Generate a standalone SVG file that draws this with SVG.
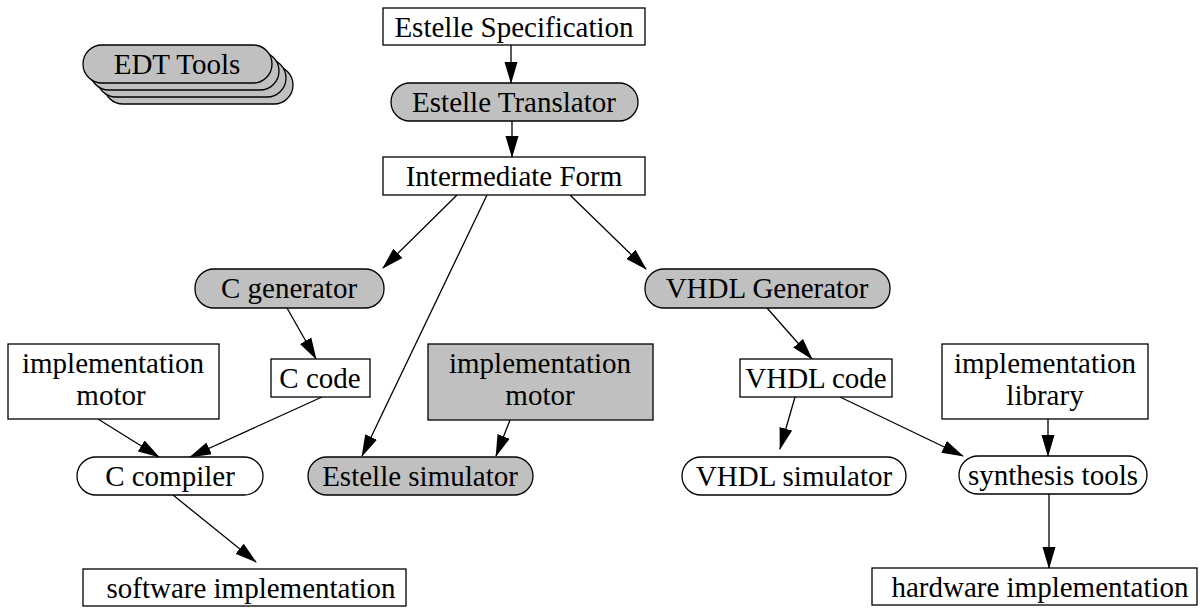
<svg xmlns="http://www.w3.org/2000/svg" width="1200" height="608" viewBox="0 0 1200 608">
  <defs>
    <style>
      .box { fill: #ffffff; stroke: #000000; stroke-width: 1.3; }
      .tool { fill: #c0c0c0; stroke: #000000; stroke-width: 1.3; }
      .plain { fill: #ffffff; stroke: #000000; stroke-width: 1.3; }
      .lbl { font-family: "Liberation Serif", "Times New Roman", serif; font-size: 29px; fill: #000000; text-anchor: middle; }
      .edge { stroke: #000000; stroke-width: 1.3; fill: none; marker-end: url(#arrow); }
    </style>
    <marker id="arrow" markerUnits="userSpaceOnUse" markerWidth="22" markerHeight="14" refX="21" refY="7" orient="auto">
      <path d="M0,0.5 L22,7 L0,13.5 z" fill="#000000"/>
    </marker>
  </defs>

  <rect width="1200" height="608" fill="#ffffff"/>

  <!-- legend: stacked tool shape -->
  <g id="legend-edt-tools">
    <rect class="tool" x="104" y="66" width="189" height="38" rx="19"/>
    <rect class="tool" x="97" y="59" width="189" height="38" rx="19"/>
    <rect class="tool" x="90" y="52" width="189" height="38" rx="19"/>
    <rect class="tool" x="83" y="45" width="189" height="38" rx="19"/>
    <text class="lbl" x="177" y="74">EDT Tools</text>
  </g>

  <!-- connectors -->
  <g id="connectors">
    <line class="edge" x1="511" y1="45" x2="511" y2="83"/>
    <line class="edge" x1="512" y1="121" x2="512" y2="157"/>
    <line class="edge" x1="457" y1="195" x2="383" y2="268"/>
    <line class="edge" x1="487" y1="195" x2="362" y2="456"/>
    <line class="edge" x1="570" y1="195" x2="646" y2="269"/>
    <line class="edge" x1="287" y1="308" x2="316" y2="359"/>
    <line class="edge" x1="322" y1="397" x2="190" y2="457"/>
    <line class="edge" x1="98" y1="419" x2="159" y2="457"/>
    <line class="edge" x1="510" y1="420" x2="496" y2="456"/>
    <line class="edge" x1="173" y1="495" x2="256" y2="562"/>
    <line class="edge" x1="767" y1="308" x2="812" y2="359"/>
    <line class="edge" x1="795" y1="397" x2="780" y2="449"/>
    <line class="edge" x1="840" y1="397" x2="963" y2="456"/>
    <line class="edge" x1="1048" y1="419" x2="1048" y2="456"/>
    <line class="edge" x1="1049" y1="494" x2="1049" y2="568"/>
  </g>

  <g id="estelle-specification">
    <rect class="box" x="383" y="8" width="262" height="37"/>
    <text class="lbl" x="514" y="37">Estelle Specification</text>
  </g>

  <g id="estelle-translator">
    <rect class="tool" x="391" y="83" width="247" height="38" rx="19"/>
    <text class="lbl" x="514" y="112">Estelle Translator</text>
  </g>

  <g id="intermediate-form">
    <rect class="box" x="383" y="157" width="262" height="38"/>
    <text class="lbl" x="514" y="186">Intermediate Form</text>
  </g>

  <g id="c-generator">
    <rect class="tool" x="195" y="269" width="189" height="39" rx="19"/>
    <text class="lbl" x="289" y="298">C generator</text>
  </g>

  <g id="vhdl-generator">
    <rect class="tool" x="645" y="269" width="245" height="39" rx="19"/>
    <text class="lbl" x="767" y="298">VHDL Generator</text>
  </g>

  <g id="c-code">
    <rect class="box" x="271" y="359" width="99" height="38"/>
    <text class="lbl" x="320" y="388">C code</text>
  </g>

  <g id="implementation-motor-c">
    <rect class="box" x="8" y="344" width="211" height="75"/>
    <text class="lbl" x="113" y="373">implementation</text>
    <text class="lbl" x="111" y="405">motor</text>
  </g>

  <g id="implementation-motor-sim">
    <rect class="tool" x="428" y="344" width="225" height="76"/>
    <text class="lbl" x="540" y="373">implementation</text>
    <text class="lbl" x="540" y="405">motor</text>
  </g>

  <g id="vhdl-code">
    <rect class="box" x="740" y="359" width="152" height="38"/>
    <text class="lbl" x="816" y="388">VHDL code</text>
  </g>

  <g id="implementation-library">
    <rect class="box" x="942" y="344" width="206" height="75"/>
    <text class="lbl" x="1045" y="373">implementation</text>
    <text class="lbl" x="1045" y="405">library</text>
  </g>

  <g id="c-compiler">
    <rect class="plain" x="77" y="457" width="186" height="38" rx="19"/>
    <text class="lbl" x="170" y="486">C compiler</text>
  </g>

  <g id="estelle-simulator">
    <rect class="tool" x="308" y="457" width="225" height="38" rx="19"/>
    <text class="lbl" x="420" y="486">Estelle simulator</text>
  </g>

  <g id="vhdl-simulator">
    <rect class="plain" x="682" y="457" width="224" height="38" rx="19"/>
    <text class="lbl" x="794" y="486">VHDL simulator</text>
  </g>

  <g id="synthesis-tools">
    <rect class="plain" x="959" y="456" width="188" height="38" rx="19"/>
    <text class="lbl" x="1053" y="485">synthesis tools</text>
  </g>

  <g id="software-implementation">
    <rect class="box" x="83" y="569" width="323" height="37"/>
    <text class="lbl" x="251" y="598">software implementation</text>
  </g>

  <g id="hardware-implementation">
    <rect class="box" x="872" y="568" width="325" height="37"/>
    <text class="lbl" x="1040" y="597">hardware implementation</text>
  </g>
</svg>
